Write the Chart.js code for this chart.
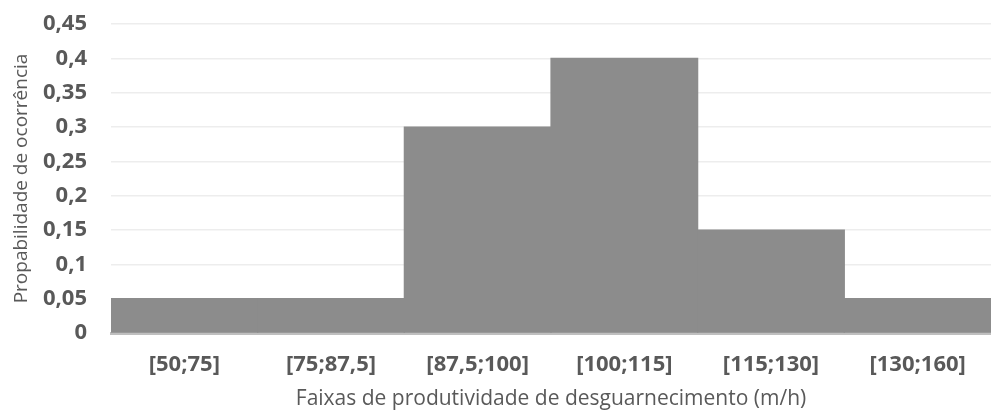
<!DOCTYPE html>
<html>
<head>
<meta charset="utf-8">
<script src="https://cdn.jsdelivr.net/npm/chart.js@4.4.1/dist/chart.umd.min.js"></script>
<style>
  html, body { margin: 0; padding: 0; background: #ffffff; }
  #wrap { width: 991px; height: 415px; position: relative; }
</style>
</head>
<body>
<div id="wrap"><canvas id="histo"></canvas></div>
<script>
// Productivity ranges (m/h) and probability of occurrence
const faixas = ['[50;75]', '[75;87,5]', '[87,5;100]', '[100;115]', '[115;130]', '[130;160]'];
const probabilidades = [0.05, 0.05, 0.3, 0.4, 0.15, 0.05];
const yMax = 0.45;
const yStep = 0.05;

const textColor = '#595959';
const fontFamily = "'Open Sans', 'Noto Sans', sans-serif";

function formatPt(v) {
  return String(+Number(v).toFixed(2)).replace('.', ',');
}

new Chart(document.getElementById('histo'), {
  type: 'bar',
  data: {
    labels: faixas,
    datasets: [{
      data: probabilidades,
      backgroundColor: '#8c8c8c',
      borderWidth: 0,
      inflateAmount: 0.6,
      barPercentage: 1,
      categoryPercentage: 1
    }]
  },
  options: {
    responsive: true,
    maintainAspectRatio: false,
    animation: false,
    layout: { padding: { top: 24, right: 0, bottom: 0, left: 0 } },
    plugins: { legend: { display: false }, tooltip: { enabled: false } },
    scales: {
      x: {
        grid: { display: false, drawTicks: false },
        border: { display: true, color: '#bfbfbf', width: 3 },
        ticks: { color: textColor, padding: 19, font: { family: fontFamily, size: 22, weight: 'bold' } },
        title: {
          display: true,
          text: 'Faixas de produtividade de desguarnecimento (m/h)',
          color: textColor,
          font: { family: fontFamily, size: 21 },
          padding: { top: 4, bottom: 3 }
        },
        afterFit: (s) => { s.height = 82; s.paddingLeft = 0; s.paddingRight = 0; }
      },
      y: {
        min: 0,
        max: yMax,
        grid: { color: '#ededed', lineWidth: 1.5, drawTicks: false },
        border: { display: false },
        ticks: {
          stepSize: yStep,
          color: textColor,
          padding: 24,
          font: { family: fontFamily, size: 22, weight: 'bold' },
          callback: (v) => formatPt(v)
        },
        title: {
          display: true,
          text: 'Propabilidade de ocorrência',
          color: textColor,
          font: { family: fontFamily, size: 19 },
          padding: { top: 10, bottom: 4 }
        },
        afterFit: (s) => { s.width = 111; s.paddingTop = 0; s.paddingBottom = 0; }
      }
    }
  }
});
</script>
</body>
</html>
